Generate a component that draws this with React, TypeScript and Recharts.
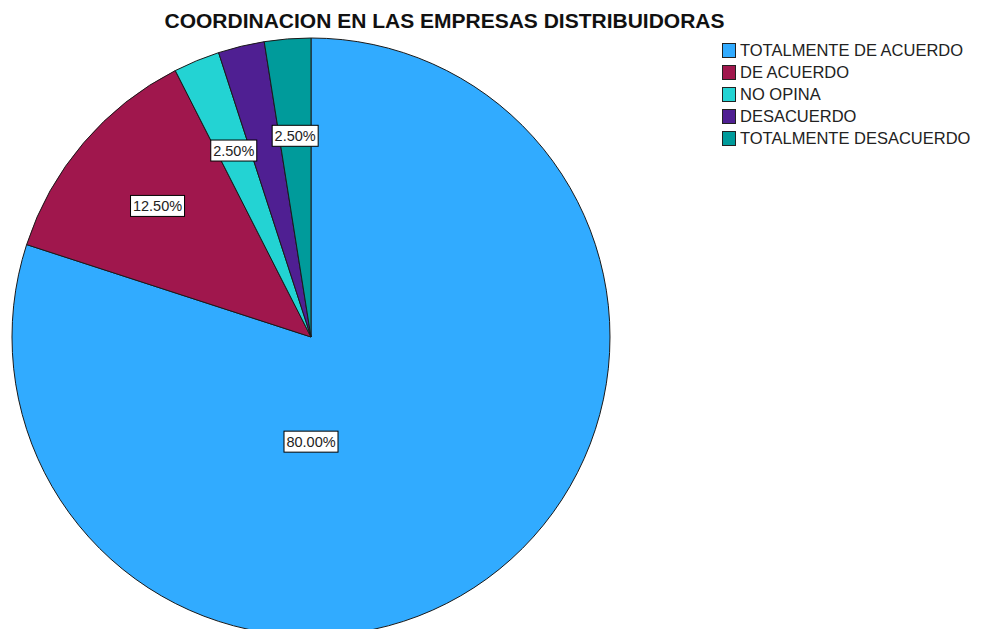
import { Legend, Pie, PieChart, Cell } from 'recharts'

const categories = [
  'TOTALMENTE DE ACUERDO',
  'DE ACUERDO',
  'NO OPINA',
  'DESACUERDO',
  'TOTALMENTE DESACUERDO',
]
const percents = [80, 12.5, 2.5, 2.5, 2.5]
const colors = ['#31abff', '#a0174d', '#23d3d3', '#4f1f92', '#009b9b']
// SPSS left the DESACUERDO label off in the original
const showLabel = [true, true, true, false, true]

const TITLE = 'COORDINACION EN LAS EMPRESAS DISTRIBUIDORAS'
const FONT = '"Liberation Sans", Arial, sans-serif'

const data = categories.map((name, i) => ({ name, value: percents[i] }))

const RAD = Math.PI / 180

function renderLabel(props: any) {
  const { cx, cy, midAngle, outerRadius, index, value } = props
  if (!showLabel[index]) return null
  let x: number
  let y: number
  if (value >= 50) {
    // big slice: SPSS puts it below the center
    x = cx
    y = cy + outerRadius * 0.35
  } else {
    const r = outerRadius * 0.675
    x = cx + r * Math.cos(-midAngle * RAD)
    y = cy + r * Math.sin(-midAngle * RAD)
  }
  const text = `${value.toFixed(2)}%`
  const w = text.length * 8 + 6
  const h = 21
  return (
    <g>
      <rect x={x - w / 2} y={y - h / 2} width={w} height={h} fill="#fff" stroke="#000" strokeWidth={1} />
      <text x={x} y={y + 5} textAnchor="middle" fontFamily={FONT} fontSize={14.5} fill="#222">
        {text}
      </text>
    </g>
  )
}

function LegendList() {
  return (
    <div style={{ fontFamily: FONT, fontSize: 16.5, color: '#222' }}>
      {categories.map((c, i) => (
        <div key={c} style={{ display: 'flex', alignItems: 'center', height: 22 }}>
          <span
            style={{
              display: 'inline-block',
              width: 12,
              height: 13,
              background: colors[i],
              border: '1px solid #222',
              marginRight: 4,
            }}
          />
          <span>{c}</span>
        </div>
      ))}
    </div>
  )
}

export default function App() {
  return (
    <div style={{ position: 'absolute', left: 0, top: 0, width: 981, height: 629, background: '#fff', overflow: 'hidden' }}>
      <div
        style={{
          position: 'absolute',
          left: 0,
          top: 10,
          width: 889,
          textAlign: 'center',
          fontFamily: FONT,
          fontWeight: 'bold',
          fontSize: 21,
          color: '#111',
          lineHeight: '22px',
          whiteSpace: 'nowrap',
        }}
      >
        {TITLE}
      </div>
      <PieChart width={981} height={629} margin={{ top: 0, right: 0, bottom: 0, left: 0 }}>
        <Pie
          data={data}
          dataKey="value"
          nameKey="name"
          cx={311}
          cy={337}
          outerRadius={299}
          startAngle={90}
          endAngle={-270}
          stroke="#1a1a1a"
          strokeWidth={1}
          labelLine={false}
          label={renderLabel}
          isAnimationActive={false}
        >
          {data.map((d, i) => (
            <Cell key={d.name} fill={colors[i]} />
          ))}
        </Pie>
        <Legend
          layout="vertical"
          content={() => <LegendList />}
          wrapperStyle={{ position: 'absolute', left: 722, top: 39, width: 259 }}
        />
      </PieChart>
    </div>
  )
}
